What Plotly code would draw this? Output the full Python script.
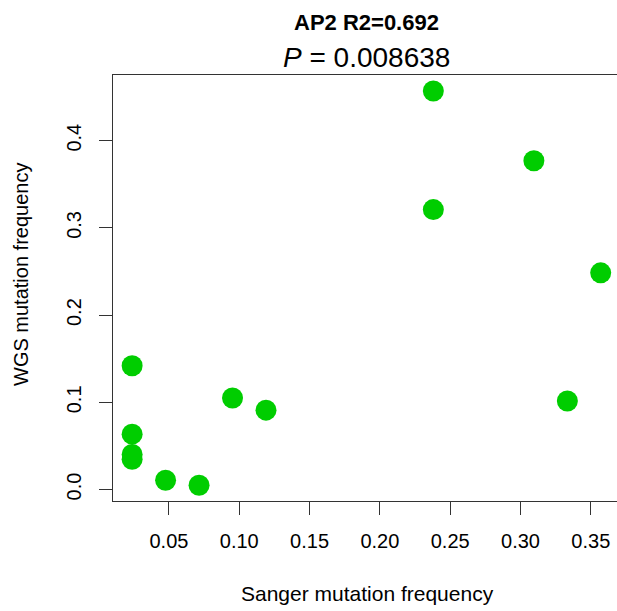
import plotly.graph_objects as go

# Sanger vs WGS mutation frequency, AP2
sanger = [0.0238, 0.0238, 0.0238, 0.0238, 0.0476, 0.0714, 0.0952, 0.119,
          0.238, 0.238, 0.3095, 0.3333, 0.357]
wgs = [0.142, 0.0635, 0.0403, 0.0348, 0.0107, 0.0050, 0.105, 0.091,
       0.457, 0.321, 0.377, 0.1015, 0.2485]

x_ticks = [0.05, 0.10, 0.15, 0.20, 0.25, 0.30, 0.35]
x_tick_text = ["0.05", "0.10", "0.15", "0.20", "0.25", "0.30", "0.35"]
y_ticks = [0.0, 0.1, 0.2, 0.3, 0.4]
y_tick_text = ["0.0", "0.1", "0.2", "0.3", "0.4"]

title_1 = "<b>AP2 R2=0.692</b>"
title_2 = "<i>P</i> = 0.008638"

font = "Liberation Sans, Arial, sans-serif"
W, H = 617, 611
L, R, T, B = 113, 0, 75, 110
pw, ph = W - L - R, H - T - B

def px_x(p):
    return (p - L) / pw

def px_y(p):
    return (H - B - p) / ph

fig = go.Figure()
fig.add_trace(go.Scatter(x=sanger, y=wgs, mode="markers",
                         marker=dict(size=21, color="#00CD00", line=dict(width=0)),
                         showlegend=False, hoverinfo="x+y"))

fig.update_layout(
    width=W, height=H,
    margin=dict(l=L, r=R, t=T, b=B),
    paper_bgcolor="white", plot_bgcolor="white",
    font=dict(family=font, color="black", size=20),
    xaxis=dict(range=[0.0102, 0.3686], tickvals=x_ticks, ticktext=x_tick_text,
               showgrid=False, zeroline=False, showline=True, mirror=True,
               linecolor="#333333", linewidth=1.2, ticks="outside", ticklen=13,
               tickcolor="#333333", tickwidth=1.2, ticklabelstandoff=9,
               tickfont=dict(size=20)),
    yaxis=dict(range=[-0.0131, 0.4753], tickvals=y_ticks, ticktext=y_tick_text,
               showgrid=False, zeroline=False, showline=True, mirror=False,
               linecolor="#333333", linewidth=1.2, ticks="outside", ticklen=13,
               tickcolor="#333333", tickwidth=1.2, tickangle=-90,
               ticklabelstandoff=10, tickfont=dict(size=20)),
)

fig.add_annotation(text=title_1, xref="paper", yref="paper", x=px_x(366), y=px_y(22),
                   xanchor="center", yanchor="middle", showarrow=False,
                   font=dict(size=22, family=font))
fig.add_annotation(text=title_2, xref="paper", yref="paper", x=px_x(366), y=px_y(57),
                   xanchor="center", yanchor="middle", showarrow=False,
                   font=dict(size=28, family=font))
fig.add_annotation(text="Sanger mutation frequency", xref="paper", yref="paper",
                   x=px_x(367), y=px_y(593), xanchor="center", yanchor="middle",
                   showarrow=False, font=dict(size=21, family=font))
fig.add_annotation(text="WGS mutation frequency", xref="paper", yref="paper",
                   x=px_x(21), y=px_y(275), xanchor="center", yanchor="middle",
                   textangle=-90, showarrow=False, font=dict(size=20, family=font))

fig.write_html("out.html", config={"displayModeBar": False},
               post_script="document.body.style.margin='0';")
